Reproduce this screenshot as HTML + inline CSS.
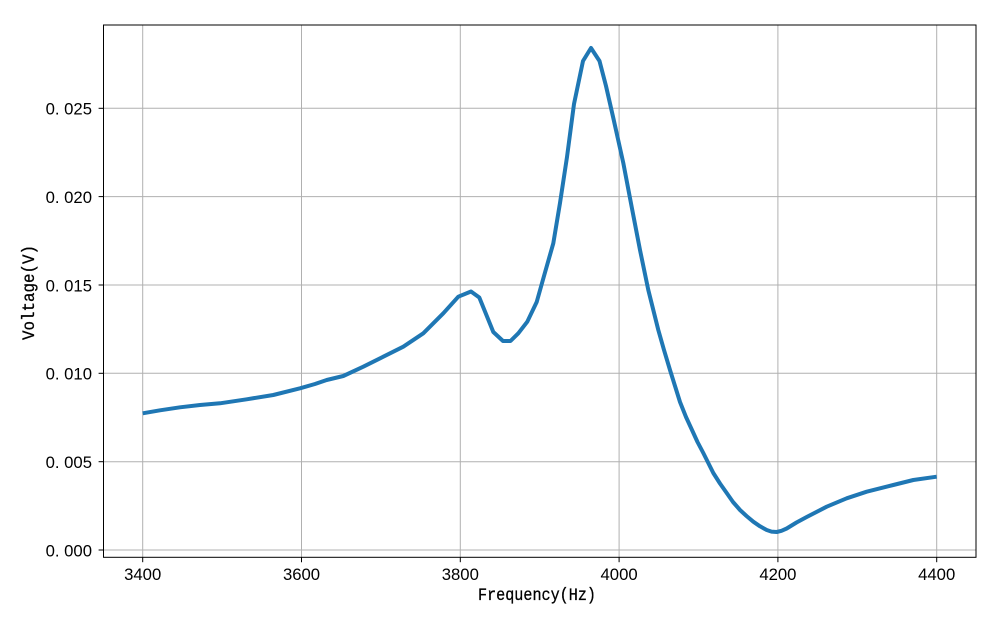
<!DOCTYPE html>
<html><head><meta charset="utf-8"><style>
html,body{margin:0;padding:0;background:#fff;}
svg{display:block;}
</style></head><body>
<svg width="1000" height="625" viewBox="0 0 1000 625" xmlns="http://www.w3.org/2000/svg">
<rect x="0" y="0" width="1000" height="625" fill="#fff"/>
<!-- grid -->
<g stroke="#b0b0b0" stroke-width="1">
<line x1="142.7" y1="25" x2="142.7" y2="557.3"/>
<line x1="301.5" y1="25" x2="301.5" y2="557.3"/>
<line x1="460.3" y1="25" x2="460.3" y2="557.3"/>
<line x1="619.1" y1="25" x2="619.1" y2="557.3"/>
<line x1="777.9" y1="25" x2="777.9" y2="557.3"/>
<line x1="936.7" y1="25" x2="936.7" y2="557.3"/>
<line x1="103.5" y1="550" x2="976" y2="550"/>
<line x1="103.5" y1="461.7" x2="976" y2="461.7"/>
<line x1="103.5" y1="373.3" x2="976" y2="373.3"/>
<line x1="103.5" y1="285" x2="976" y2="285"/>
<line x1="103.5" y1="196.6" x2="976" y2="196.6"/>
<line x1="103.5" y1="108.3" x2="976" y2="108.3"/>
</g>
<!-- curve -->
<polyline fill="none" stroke="#1f77b4" stroke-width="4" stroke-linejoin="round" stroke-linecap="butt" points="
142.7,413.3 160,410.3 180,407.3 200,405 220,403.3 246.7,399.3 273.3,395 300,388.3 315,384 326.7,380 343.3,376 363.3,366.7 383.3,356.7 403.3,346.7 423.3,333.3 443.3,313.3 458.3,296.7 471,291.5 479.3,297.5 493.3,332 503,341 510.5,341 518.3,333.3 527.3,321.7 536.7,302 544,276 553.3,243.3 560,203 567,157 574,104 583,61 591,48 599.5,61 606,86 613.3,118 618.3,140.5 623.3,163 631.7,207 640,250 648.3,290 658.3,330 664,350 670,370 675,386 680,402 686,417 692,430 697.5,442 703.3,453 713.3,473 720,483.5 726.7,493 733,502 740,510 746.5,516 753.3,521.7 760,526.3 766.7,530 771.5,531.6 776.7,532 781.5,530.8 786.7,528.5 796.5,522.5 806.7,517 826.7,506.7 846.7,498.3 866.7,491.7 893.3,485 913.3,480 936.7,476.7"/>
<!-- axes frame -->
<rect x="103.5" y="25" width="872.5" height="532.3" fill="none" stroke="#000" stroke-width="1"/>
<!-- ticks -->
<g stroke="#000" stroke-width="1">
<line x1="142.7" y1="557.3" x2="142.7" y2="562.2"/>
<line x1="301.5" y1="557.3" x2="301.5" y2="562.2"/>
<line x1="460.3" y1="557.3" x2="460.3" y2="562.2"/>
<line x1="619.1" y1="557.3" x2="619.1" y2="562.2"/>
<line x1="777.9" y1="557.3" x2="777.9" y2="562.2"/>
<line x1="936.7" y1="557.3" x2="936.7" y2="562.2"/>
<line x1="98.6" y1="550" x2="103.5" y2="550"/>
<line x1="98.6" y1="461.7" x2="103.5" y2="461.7"/>
<line x1="98.6" y1="373.3" x2="103.5" y2="373.3"/>
<line x1="98.6" y1="285" x2="103.5" y2="285"/>
<line x1="98.6" y1="196.6" x2="103.5" y2="196.6"/>
<line x1="98.6" y1="108.3" x2="103.5" y2="108.3"/>
</g>
<!-- x tick labels -->
<g font-family="Liberation Sans, Arial, sans-serif" font-size="16.7" fill="#000" text-anchor="middle">
<text x="142.7" y="580">3400</text>
<text x="301.5" y="580">3600</text>
<text x="460.3" y="580">3800</text>
<text x="619.1" y="580">4000</text>
<text x="777.9" y="580">4200</text>
<text x="936.7" y="580">4400</text>
</g>
<!-- y tick labels -->
<g font-family="Liberation Sans, Arial, sans-serif" font-size="16.7" fill="#000" text-anchor="end" xml:space="preserve">
<text x="92" y="556.3">0. 000</text>
<text x="92" y="468">0. 005</text>
<text x="92" y="379.6">0. 010</text>
<text x="92" y="291.3">0. 015</text>
<text x="92" y="202.9">0. 020</text>
<text x="92" y="114.6">0. 025</text>
</g>
<!-- axis labels -->
<text x="478" y="600" font-family="Liberation Mono, DejaVu Sans Mono, monospace" font-size="17.5" fill="#000" stroke="#000" stroke-width="0.3" textLength="118" lengthAdjust="spacingAndGlyphs">Frequency(Hz)</text>
<text transform="translate(34,340) rotate(-90)" x="0" y="0" font-family="Liberation Mono, DejaVu Sans Mono, monospace" font-size="17.5" fill="#000" stroke="#000" stroke-width="0.3" textLength="95" lengthAdjust="spacingAndGlyphs">Voltage(V)</text>
</svg>
</body></html>
